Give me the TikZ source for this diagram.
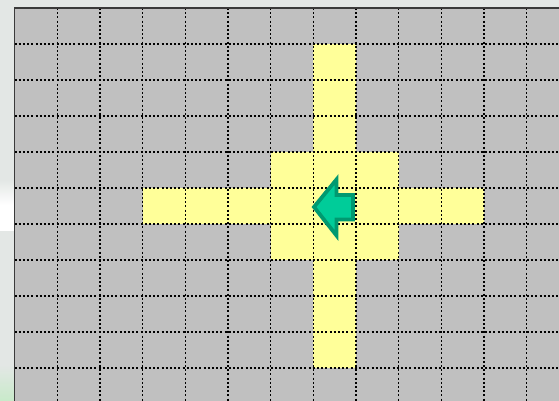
\documentclass[tikz,border=0pt]{standalone}
\definecolor{outerbg}{HTML}{E3E7E5}
\definecolor{cellgray}{HTML}{C0C0C0}
\definecolor{crossyellow}{HTML}{FFFF99}
\definecolor{arrowfill}{HTML}{00CC99}
\definecolor{arrowedge}{HTML}{009970}
\definecolor{frameline}{HTML}{3A3A3A}
\begin{document}
\begin{tikzpicture}[x=1pt,y=-1pt,
  gridline/.style={black, line width=1.4pt, dash pattern=on 2pt off 2.2pt},
  crossfill/.style={fill=crossyellow},
  arrowshape/.style={fill=arrowfill, draw=arrowedge, line width=3.8pt, line join=miter}]
\useasboundingbox (0,0) rectangle (559,401);
% outer background
\fill[outerbg] (0,0) rectangle (559,401);
\shade[top color=outerbg, bottom color=white, middle color=white] (0,180) rectangle (14,230);
\shade[top color=outerbg, bottom color=green!12!outerbg] (0,365) rectangle (14,401);
% gray board
\fill[cellgray] (14.5,8) rectangle (559,401);
% yellow cross
\fill[crossfill] (313.33,44) rectangle (356,368);
\fill[crossfill] (142.67,188) rectangle (484,224);
\fill[crossfill] (270.67,152) rectangle (398.67,260);
% dotted grid
\foreach \i in {1,...,12} {
  \draw[gridline] ({14.67+42.667*\i},8) -- ({14.67+42.667*\i},401);
}
\foreach \j in {1,...,10} {
  \draw[gridline] (14.5,{8+36*\j}) -- (559,{8+36*\j});
}
% frame
\draw[frameline, line width=1.8pt] (14.5,401) -- (14.5,8) -- (559,8);
% arrow
\draw[arrowshape] (314,207) -- (336.5,179.5) -- (336.5,195) -- (353,195) -- (353,219.5) -- (336.5,219.5) -- (336.5,235.5) -- cycle;
\end{tikzpicture}
\end{document}
